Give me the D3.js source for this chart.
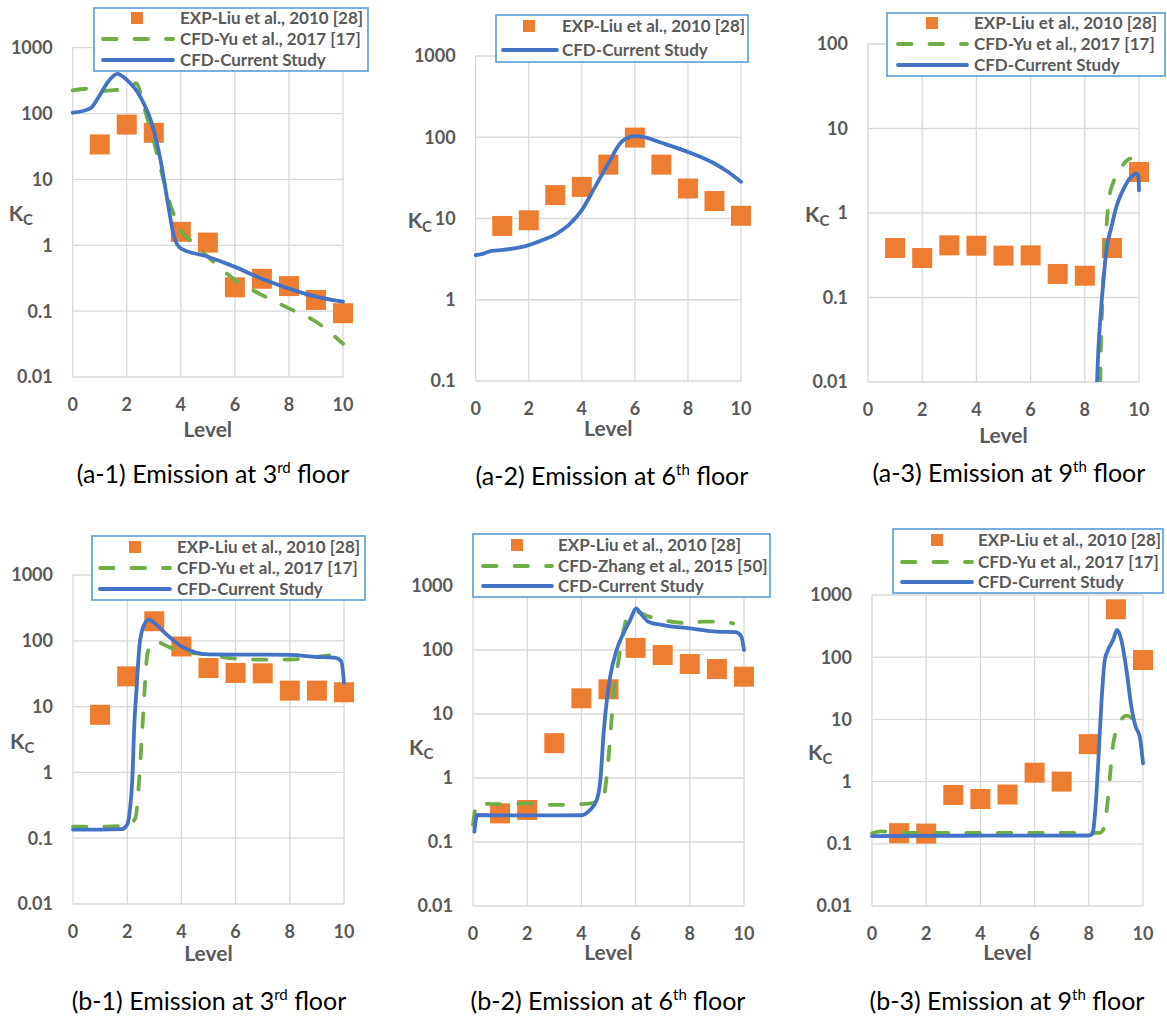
<!DOCTYPE html>
<html>
<head>
<meta charset="utf-8">
<script src="https://cdn.jsdelivr.net/npm/d3@7"></script>
<style>
  body { margin: 0; background: #fff; }
  svg { display: block; }
</style>
</head>
<body>
<svg id="fig" width="1167" height="1016"></svg>
<script>
// ---- data -------------------------------------------------------------
const levels = [1, 2, 3, 4, 5, 6, 7, 8, 9, 10];
const xTicks = [0, 2, 4, 6, 8, 10];
const yTickValues = [0.01, 0.1, 1, 10, 100, 1000];
const yTickLabels = ["0.01", "0.1", "1", "10", "100", "1000"];

const expLabel = "EXP-Liu et al., 2010 [28]";
const yuLabel = "CFD-Yu et al., 2017 [17]";
const zhangLabel = "CFD-Zhang et al., 2015 [50]";
const curLabel = "CFD-Current Study";

// measured Kc at each level (Liu et al., 2010)
const expA1 = [34, 68, 51, 1.6, 1.1, 0.23, 0.31, 0.24, 0.148, 0.093];
const expA2 = [8.1, 9.5, 19.4, 24.5, 46, 99, 46, 23.4, 16.4, 10.8];
const expA3 = [0.385, 0.293, 0.414, 0.41, 0.313, 0.315, 0.19, 0.181, 0.385, 3.06];
const expB1 = [7.5, 28.8, 198, 82, 38.6, 32.5, 32, 17.5, 17.5, 16.5];
const expB2 = [0.28, 0.316, 3.5, 17.6, 24.3, 108, 83.5, 60.3, 50.4, 38.3];
const expB3 = [0.148, 0.146, 0.61, 0.525, 0.62, 1.39, 1.0, 4.0, 588, 90];

// simulated profiles, [level, Kc]
const curA1 = [[0,103],[0.65,120],[1,190],[1.3,300],[1.65,400],[2,325],[2.5,180],[3,56],[3.25,19.7],[3.5,4.9],[3.75,1.35],[4,0.9],[5,0.67],[6,0.47],[7,0.31],[8,0.22],[9,0.166],[10,0.139]];
const yuA1 = [[0,225],[0.5,238],[1,220],[1.6,228],[2.1,240],[2.35,290],[2.65,120],[3,38],[3.3,12.3],[3.6,4.3],[4,1.7],[4.4,1.13],[5,0.67],[6,0.30],[7,0.176],[8,0.11],[9,0.069],[10,0.032]];

const curA2 = [[0,3.53],[0.3,3.7],[0.6,4.0],[1,4.1],[2,4.7],[2.5,5.4],[3,6.35],[3.5,8.3],[4,12.7],[4.5,24.5],[5,47.5],[5.5,88],[6,103],[6.3,101],[7,85.5],[8,66],[9,47.5],[9.5,37.6],[10,28.3]];

const curA3 = [[8.45,0.01],[8.5,0.024],[8.58,0.06],[8.68,0.149],[8.8,0.368],[8.99,0.695],[9.17,1.2],[9.42,1.89],[9.67,2.6],[9.91,2.92],[9.98,2.7],[10,1.85]];
const yuA3 = [[8.57,0.01],[8.6,0.03],[8.65,0.09],[8.75,0.4],[8.9,1.5],[9.05,2.3],[9.3,3.3],[9.6,4.3],[9.68,4.4]];

const curB1 = [[0,0.135],[1,0.135],[1.8,0.137],[2,0.16],[2.1,0.27],[2.2,1.0],[2.25,4],[2.35,20],[2.45,82],[2.6,166],[2.8,210],[3,186],[3.5,120],[4,82],[4.5,67],[5,62],[6,61.5],[7,61.5],[8,61],[9,57],[9.7,55],[9.9,48.8],[10,22.8]];
const yuB1 = [[0,0.15],[1,0.15],[2,0.155],[2.3,0.2],[2.45,0.87],[2.55,4],[2.65,20],[2.75,65],[3,98],[3.5,82],[4,69],[5,61.5],[6,53.5],[7,51.6],[8,52],[9,57],[9.6,61]];

const curB2 = [[0.05,0.145],[0.15,0.264],[1,0.26],[2,0.26],[3,0.26],[4,0.262],[4.3,0.31],[4.57,0.46],[4.7,0.93],[4.82,5],[4.94,16.6],[5.06,38],[5.3,100],[5.55,182],[5.8,294],[6.02,448],[6.23,352],[6.47,277],[7,245],[8,218],[9,193],[9.7,190],[9.9,162],[10,100]];
const zhangB2 = [[0,0.186],[0.15,0.4],[1,0.39],[2,0.4],[3,0.38],[4,0.39],[4.6,0.42],[4.8,0.45],[4.9,0.8],[5.0,2],[5.1,7],[5.2,22],[5.35,60],[5.5,150],[5.7,330],[6,400],[6.5,332],[7,294],[8,261],[8.5,278],[9,278],[9.6,261]];

const curB3 = [[0,0.133],[2,0.134],[4,0.135],[6,0.135],[8,0.136],[8.1,0.14],[8.16,0.16],[8.25,0.4],[8.34,1.74],[8.47,20],[8.59,90],[8.71,131],[8.9,190],[9.04,274],[9.2,190],[9.39,62],[9.57,16],[9.73,7.6],[9.88,5.3],[10,1.97]];
const yuB3 = [[0,0.148],[0.3,0.158],[1,0.15],[2,0.15],[4,0.15],[6,0.15],[8,0.15],[8.4,0.15],[8.5,0.16],[8.6,0.22],[8.7,0.5],[8.8,1.5],[8.87,3.2],[9.0,6.5],[9.2,10],[9.4,11.5],[9.6,10.5]];

// ---- styling ------------------------------------------------------------
const C = {
  exp: "#ED7D31", cur: "#4472C4", ref: "#70AD47",
  grid: "#d9d9d9", text: "#595959", legendBorder: "#5B9BD5"
};
const FONT = "Lato, 'Open Sans', sans-serif";
const dash = "13.5,18";

// ---- panel layout -------------------------------------------------------
const panels = [
  { left: 72.7, right: 343, top: 47.7, bottom: 377, yDomain: [0.01, 1000],
    exp: expA1, ref: yuA1, refLabel: yuLabel, cur: curA1,
    legend: { x: 94, y: 8, w: 274, h: 63, rows: [10, 31, 52], s0: 9, s1: 79, mk: 43, tx: 86 },
    kcDx: -64, levelDy: 60, cap: { x: 213, y: 483, n: "(a-1) Emission at 3", sup: "rd" } },
  { left: 475.7, right: 741, top: 56, bottom: 381, yDomain: [0.1, 1000],
    exp: expA2, ref: null, cur: curA2,
    legend: { x: 496, y: 15, w: 252, h: 47, rows: [11, 35], s0: 7, s1: 61, mk: 33, tx: 66 },
    kcDx: -68, levelDy: 55, cap: { x: 612, y: 485, n: "(a-2) Emission at 6", sup: "th" } },
  { left: 868, right: 1139, top: 44, bottom: 382, yDomain: [0.01, 100],
    exp: expA3, ref: yuA3, refLabel: yuLabel, cur: curA3,
    legend: { x: 887, y: 13, w: 278, h: 63, rows: [10, 31, 52], s0: 11, s1: 80, mk: 45, tx: 87 },
    kcDx: -63, levelDy: 61, cap: { x: 1009, y: 482, n: "(a-3) Emission at 9", sup: "th" } },
  { left: 73, right: 344, top: 575, bottom: 904, yDomain: [0.01, 1000],
    exp: expB1, ref: yuB1, refLabel: yuLabel, cur: curB1,
    legend: { x: 92, y: 536, w: 273, h: 64, rows: [11, 32, 53], s0: 8, s1: 78, mk: 43, tx: 85 },
    kcDx: -63, levelDy: 57, cap: { x: 209, y: 1010, n: "(b-1) Emission at 3", sup: "rd" } },
  { left: 473, right: 744, top: 586, bottom: 906, yDomain: [0.01, 1000],
    exp: expB2, ref: zhangB2, refLabel: zhangLabel, cur: curB2,
    legend: { x: 473, y: 534, w: 297, h: 63, rows: [11, 32, 52], s0: 10, s1: 79, mk: 44, tx: 85 },
    kcDx: -64, levelDy: 54, cap: { x: 608, y: 1010, n: "(b-2) Emission at 6", sup: "th" } },
  { left: 872, right: 1143, top: 595, bottom: 906, yDomain: [0.01, 1000],
    exp: expB3, ref: yuB3, refLabel: yuLabel, cur: curB3,
    legend: { x: 893, y: 529, w: 270, h: 64, rows: [11, 33, 53], s0: 9, s1: 79, mk: 44, tx: 85 },
    kcDx: -64, levelDy: 54, cap: { x: 1007, y: 1010, n: "(b-3) Emission at 9", sup: "th" } }
];

const svg = d3.select("#fig");
const defs = svg.append("defs");

panels.forEach((p, i) => {
  const x = d3.scaleLinear().domain([0, 10]).range([p.left, p.right]);
  const y = d3.scaleLog().domain(p.yDomain).range([p.bottom, p.top]);
  const g = svg.append("g").attr("class", "panel");
  const yTicks = yTickValues.filter(v => v >= p.yDomain[0] - 1e-12 && v <= p.yDomain[1] + 1e-9);

  defs.append("clipPath").attr("id", "clip" + i)
    .append("rect").attr("x", p.left - 2).attr("y", p.top - 2)
    .attr("width", p.right - p.left + 4).attr("height", p.bottom - p.top + 2);

  // gridlines
  g.append("g").selectAll("line.h").data(yTicks).join("line")
    .attr("x1", p.left).attr("x2", p.right)
    .attr("y1", d => y(d)).attr("y2", d => y(d))
    .attr("stroke", C.grid).attr("stroke-width", 1.3);
  g.append("g").selectAll("line.v").data(xTicks).join("line")
    .attr("y1", p.top).attr("y2", p.bottom)
    .attr("x1", d => x(d)).attr("x2", d => x(d))
    .attr("stroke", C.grid).attr("stroke-width", 1.3);

  // y tick labels
  g.append("g").selectAll("text").data(yTicks).join("text")
    .attr("x", p.left - 20).attr("y", d => y(d)).attr("dy", "0.36em")
    .attr("text-anchor", "end")
    .attr("font-family", FONT).attr("font-weight", 700).attr("font-size", 18)
    .attr("fill", C.text)
    .text(d => yTickLabels[yTickValues.indexOf(d)]);

  // x tick labels
  g.append("g").selectAll("text").data(xTicks).join("text")
    .attr("x", d => x(d)).attr("y", p.bottom + 34)
    .attr("text-anchor", "middle")
    .attr("font-family", FONT).attr("font-weight", 700).attr("font-size", 18)
    .attr("fill", C.text)
    .text(d => d);

  // axis titles
  g.append("text")
    .attr("x", (p.left + p.right) / 2).attr("y", p.bottom + p.levelDy)
    .attr("text-anchor", "middle")
    .attr("font-family", FONT).attr("font-weight", 700).attr("font-size", 21)
    .attr("fill", C.text).text("Level");
  const kc = g.append("text")
    .attr("x", p.left + p.kcDx).attr("y", (p.top + p.bottom) / 2 + 9)
    .attr("font-family", FONT).attr("font-weight", 700).attr("font-size", 21)
    .attr("fill", C.text);
  kc.append("tspan").text("K");
  kc.append("tspan").attr("font-size", 15).attr("dy", 4).text("C");

  // measured points
  g.append("g").selectAll("rect").data(p.exp).join("rect")
    .attr("x", (d, j) => x(levels[j]) - 10).attr("y", d => y(d) - 10)
    .attr("width", 20).attr("height", 20).attr("fill", C.exp);

  // simulated profiles
  const line = d3.line().x(d => x(d[0])).y(d => y(d[1])).curve(d3.curveMonotoneX);
  const lines = g.append("g").attr("clip-path", `url(#clip${i})`);
  if (p.ref) {
    lines.append("path").attr("d", line(p.ref))
      .attr("fill", "none").attr("stroke", C.ref).attr("stroke-width", 3.8)
      .attr("stroke-dasharray", dash).attr("stroke-linecap", "round");
  }
  lines.append("path").attr("d", line(p.cur))
    .attr("fill", "none").attr("stroke", C.cur).attr("stroke-width", 3.8)
    .attr("stroke-linejoin", "round").attr("stroke-linecap", "round");

  // legend
  const L = p.legend;
  const lg = g.append("g").attr("transform", `translate(${L.x},${L.y})`);
  lg.append("rect").attr("width", L.w).attr("height", L.h)
    .attr("fill", "#fff").attr("stroke", C.legendBorder).attr("stroke-width", 1.6);
  const entries = [{ type: "exp", label: expLabel }];
  if (p.ref) entries.push({ type: "ref", label: p.refLabel });
  entries.push({ type: "cur", label: curLabel });
  entries.forEach((e, k) => {
    const ry = L.rows[k];
    if (e.type === "exp") {
      lg.append("rect").attr("x", L.mk - 6).attr("y", ry - 6)
        .attr("width", 12).attr("height", 12).attr("fill", C.exp);
    } else {
      const s = lg.append("line").attr("x1", L.s0).attr("x2", L.s1)
        .attr("y1", ry).attr("y2", ry).attr("stroke-width", 3.8)
        .attr("stroke", e.type === "ref" ? C.ref : C.cur)
        .attr("stroke-linecap", "round");
      if (e.type === "ref") s.attr("stroke-dasharray", dash);
    }
    lg.append("text").attr("x", L.tx).attr("y", ry).attr("dy", "0.36em")
      .attr("font-family", FONT).attr("font-weight", 700).attr("font-size", 17)
      .attr("fill", C.text).text(e.label);
  });

  // caption
  const cap = svg.append("text")
    .attr("x", p.cap.x).attr("y", p.cap.y).attr("text-anchor", "middle")
    .attr("font-family", FONT).attr("font-size", 25).attr("fill", "#000");
  cap.append("tspan").text(p.cap.n);
  cap.append("tspan").attr("font-size", 15).attr("dy", -10).text(p.cap.sup);
  cap.append("tspan").attr("dy", 10).text(" floor");
});
</script>
</body>
</html>
